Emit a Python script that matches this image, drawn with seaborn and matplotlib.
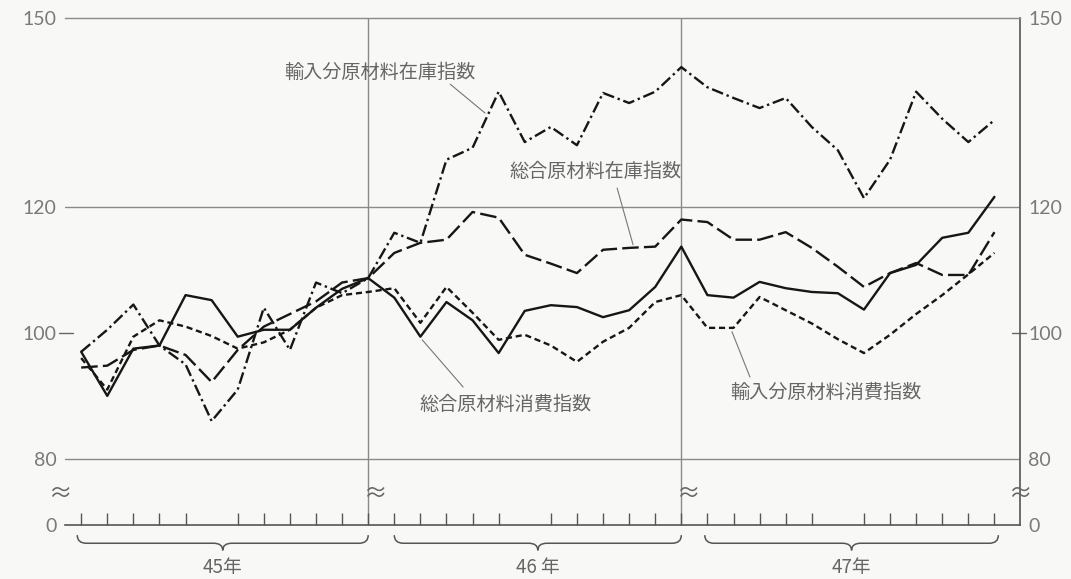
import numpy as np
import pandas as pd
import matplotlib
matplotlib.use("Agg")
import matplotlib.pyplot as plt
import matplotlib.transforms as mtransforms
from matplotlib.path import Path
from matplotlib.patches import PathPatch
import seaborn as sns

# monthly index, 昭和45年1月 .. 47年12月
months = list(range(36))
year_labels = ["45年", "46 年", "47年"]

# 輸入分原材料在庫指数 (dash-dot)
import_stock = [97, 100.5, 104.5, 98, 95, 86, 91, 104, 97.3, 108, 106.3, 108.7,
                115.9, 114.3, 127.5, 129.4, 138.3, 130.3, 132.7, 129.8, 138.1, 136.5, 138.3, 142.2,
                139, 137.3, 135.7, 137.3, 132.7, 129, 121.4, 127.5, 138.3, 134, 130.3, 133.8]
# 総合原材料在庫指数 (long dash)
total_stock = [94.5, 94.8, 97.3, 98, 96.5, 92.2, 97.3, 101, 103, 105, 108, 108.7,
               112.7, 114.3, 114.8, 119.2, 118.3, 112.4, 111, 109.5, 113.2, 113.5, 113.7, 118,
               117.6, 114.8, 114.8, 116, 113.5, 110.5, 107.3, 109.5, 111.1, 109.2, 109.2, 116]
# 総合原材料消費指数 (solid)
total_use = [97, 90, 97.5, 98, 106, 105.2, 99.4, 100.5, 100.5, 104, 107, 108.7,
             105.6, 99.4, 104.9, 102, 96.8, 103.5, 104.4, 104.1, 102.5, 103.6, 107.3, 113.7,
             106, 105.6, 108.1, 107.1, 106.5, 106.3, 103.7, 109.5, 110.8, 115.1, 115.9, 121.6]
# 輸入分原材料消費指数 (short dash)
import_use = [96, 91, 99.4, 102, 101, 99.5, 97.5, 98.5, 100.5, 104, 106, 106.5,
              107.1, 101.6, 107.3, 103.2, 98.9, 99.7, 98, 95.4, 98.6, 100.8, 104.9, 106,
              100.8, 100.8, 105.7, 103.6, 101.5, 99, 96.8, 99.7, 103, 106, 109.3, 112.7]

series_names = ["輸入分原材料在庫指数", "総合原材料在庫指数", "総合原材料消費指数", "輸入分原材料消費指数"]

df = pd.concat([
    pd.DataFrame({"month": months, "value": vals, "series": name})
    for name, vals in zip(series_names, [import_stock, total_stock, total_use, import_use])
])

sns.set_theme(style="white")
plt.rcParams["font.family"] = ["Noto Sans CJK JP", "DejaVu Sans"]

bg = "#f8f8f6"
grey = "#666666"
line_grey = "#8a8a8a"

fig = plt.figure(figsize=(10.71, 5.79), dpi=100, facecolor=bg)
ax = fig.add_axes([65 / 1071, 54 / 579, 955 / 1071, 507 / 579])
ax.set_facecolor(bg)

dashes = {
    series_names[0]: (5, 1.6, 1, 1.6),
    series_names[1]: (7, 2.2),
    series_names[2]: "",
    series_names[3]: (2.6, 1.6),
}
sns.lineplot(data=df, x="month", y="value", hue="series", style="series",
             palette=["#161616"] * 4, dashes=dashes, linewidth=1.7,
             legend=False, ax=ax)

y_bottom = 69.5
ax.set_xlim(-0.62, 35.98)
ax.set_ylim(y_bottom, 150)

# horizontal rules and the year dividers
for v in [80, 120]:
    ax.axhline(v, color=line_grey, lw=1.0, zorder=0)
for m in [11, 23]:
    ax.axvline(m, color=line_grey, lw=1.0, zorder=0)

ax.spines["left"].set_visible(False)
ax.spines["top"].set_color(line_grey)
ax.spines["top"].set_linewidth(1.0)
ax.spines["right"].set_color("#555555")
ax.spines["bottom"].set_color("#555555")
ax.spines["right"].set_linewidth(1.2)
ax.spines["bottom"].set_linewidth(1.2)

# y labels on both sides
ax.set_yticks([y_bottom, 80, 100, 120, 150])
ax.set_yticklabels(["0", "80", "100", "120", "150"])
ax.tick_params(axis="y", length=0, labelsize=14, labelcolor="#7a7a7a",
               labelleft=True, labelright=True, pad=6)
for t in ax.yaxis.get_major_ticks():
    for lab in (t.label1, t.label2):
        lab.set_fontfamily(["Lato", "DejaVu Sans"])

blend = mtransforms.blended_transform_factory(ax.transAxes, ax.transData)
ax.plot([-0.006, 0.008], [100, 100], color=grey, lw=1, transform=blend, clip_on=False)
ax.plot([0.992, 1.006], [100, 100], color=grey, lw=1, transform=blend, clip_on=False)

# month ticks, longer in June
ax.set_xticks([5, 17, 29])
ax.set_xticks([m for m in months if m not in (5, 17, 29)], minor=True)
ax.tick_params(axis="x", which="major", direction="in", length=19, width=1, color="#555555", labelbottom=False)
ax.tick_params(axis="x", which="minor", direction="in", length=9, width=1, color="#555555", labelbottom=False, bottom=True)
ax.set_xlabel("")
ax.set_ylabel("")

# axis break marks
for xm, tr in [(-0.005, blend), (11.25, ax.transData), (23.25, ax.transData), (1.0, blend)]:
    ax.text(xm, 74.3, "≈", transform=tr, ha="center", va="center",
            fontsize=17, color=grey, clip_on=False)

# year braces under the axis
bx = mtransforms.blended_transform_factory(ax.transData, ax.transAxes)
spans = [(-0.15, 11.0), (12.0, 23.0), (23.9, 35.15)]
yt, ym, yb = -0.020, -0.036, -0.050
r = 0.35
for (x0, x1), lab in zip(spans, year_labels):
    xm = (x0 + x1) / 2
    verts = [(x0, yt), (x0, ym), (x0 + r, ym), (xm - r, ym), (xm, ym), (xm, yb),
             (xm, ym), (xm + r, ym), (x1 - r, ym), (x1, ym), (x1, yt)]
    codes = [Path.MOVETO, Path.CURVE3, Path.CURVE3, Path.LINETO, Path.CURVE3, Path.CURVE3,
             Path.CURVE3, Path.CURVE3, Path.LINETO, Path.CURVE3, Path.CURVE3]
    ax.add_patch(PathPatch(Path(verts, codes), fill=False, edgecolor="#555555",
                           lw=1.1, transform=bx, clip_on=False))
    ax.text(xm, -0.083, lab, transform=bx, ha="center", va="center",
            fontsize=13.5, color=grey)

# series labels with leader lines
labels = [
    (series_names[0], (11.45, 141.3), (14.14, 139.5), (15.48, 134.9)),
    (series_names[1], (19.73, 125.6), (20.54, 123.0), (21.15, 114.0)),
    (series_names[2], (16.28, 88.6), (14.64, 91.4), (13.07, 98.9)),
    (series_names[3], (28.54, 90.5), (25.63, 93.0), (24.94, 100.2)),
]
for name, pos, start, end in labels:
    ax.text(pos[0], pos[1], name, ha="center", va="center", fontsize=13.8, color=grey)
    ax.annotate("", xy=end, xytext=start,
                arrowprops=dict(arrowstyle="-", color="#777777", lw=0.8,
                                shrinkA=0, shrinkB=0))

fig.savefig("out.png", dpi=100, facecolor=bg)
